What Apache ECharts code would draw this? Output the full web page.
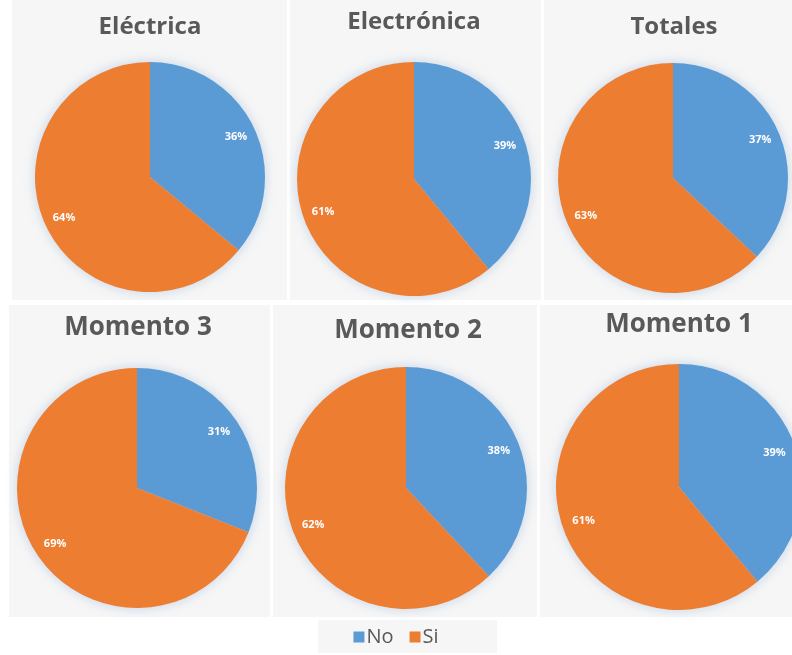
<!DOCTYPE html>
<html>
<head>
<meta charset="utf-8">
<script src="https://cdn.jsdelivr.net/npm/echarts@6/dist/echarts.min.js"></script>
<style>
  html, body { margin: 0; padding: 0; background: #ffffff; }
  #chart { width: 792px; height: 655px; }
</style>
</head>
<body>
<div id="chart"></div>
<script>
// Survey answers (percent) per group
const categories = ['No', 'Si'];
const groupTitles = ['Eléctrica', 'Electrónica', 'Totales', 'Momento 3', 'Momento 2', 'Momento 1'];
const noValues = [36, 39, 37, 31, 38, 39];
const siValues = [64, 61, 63, 69, 62, 61];

const colors = { No: '#5B9BD5', Si: '#ED7D31' };

// Layout of each small multiple: pie centre, radius, title position and size, panel box
const layout = [
  { c: [150, 177], r: 115, t: [150, 15], fs: 24, box: [12, 0, 275, 300] },
  { c: [414, 179], r: 117, t: [414, 10], fs: 24, box: [290, 0, 251, 300] },
  { c: [673, 178], r: 115, t: [674, 15], fs: 24, box: [544, 0, 248, 300] },
  { c: [137, 488], r: 120, t: [138, 315], fs: 26, box: [9, 305, 261, 312] },
  { c: [406, 488], r: 121, t: [408, 318], fs: 26, box: [273, 305, 264, 312] },
  { c: [679, 487], r: 123, t: [679, 312], fs: 26, box: [540, 305, 252, 312] }
];

const fontFamily = '"Open Sans", Lato, sans-serif';

const titles = [];
const series = [];
const graphics = [];

layout.forEach((L, i) => {
  graphics.push({
    type: 'rect', z: -10, silent: true,
    shape: { x: L.box[0], y: L.box[1], width: L.box[2], height: L.box[3] },
    style: { fill: '#f6f6f6' }
  });
  titles.push({
    text: groupTitles[i],
    left: L.t[0], top: L.t[1],
    padding: 0,
    textAlign: 'center',
    textVerticalAlign: 'top',
    textStyle: { fontFamily, fontWeight: 'bold', fontSize: L.fs, color: '#595959' }
  });
  const data = categories.map((name, k) => ({
    name,
    value: k === 0 ? noValues[i] : siValues[i],
    itemStyle: { color: colors[name] }
  }));
  // filled pie
  series.push({
    type: 'pie',
    center: L.c,
    radius: [0, L.r],
    startAngle: 90,
    clockwise: true,
    silent: true,
    label: { show: false },
    labelLine: { show: false },
    itemStyle: { shadowBlur: 12, shadowColor: 'rgba(110,150,200,0.35)', borderWidth: 0 },
    data
  });
  // percentage labels placed in the outer band of the pie
  series.push({
    type: 'pie',
    center: L.c,
    radius: [L.r * 0.6, L.r],
    startAngle: 90,
    clockwise: true,
    silent: true,
    z: 3,
    itemStyle: { color: 'transparent' },
    emphasis: { disabled: true },
    label: {
      show: true, position: 'inside',
      formatter: '{c}%',
      color: '#ffffff', fontFamily, fontWeight: 'bold', fontSize: 11
    },
    labelLine: { show: false },
    data: data.map(d => ({ name: d.name, value: d.value, itemStyle: { color: 'transparent' } }))
  });
});

// legend backdrop
graphics.push({
  type: 'rect', z: -10, silent: true,
  shape: { x: 318, y: 620, width: 179, height: 33 },
  style: { fill: '#f6f6f6' }
});

const chart = echarts.init(document.getElementById('chart'), null, { renderer: 'canvas' });
chart.setOption({
  backgroundColor: '#ffffff',
  animation: false,
  title: titles,
  graphic: graphics,
  legend: {
    data: categories.map(name => ({ name, itemStyle: { color: colors[name] } })),
    left: 'center',
    top: 622,
    icon: 'rect',
    itemWidth: 11,
    itemHeight: 11,
    itemGap: 16,
    textStyle: { fontFamily, fontSize: 20, color: '#595959', padding: [0, 0, 0, -3] }
  },
  series
});
</script>
</body>
</html>
